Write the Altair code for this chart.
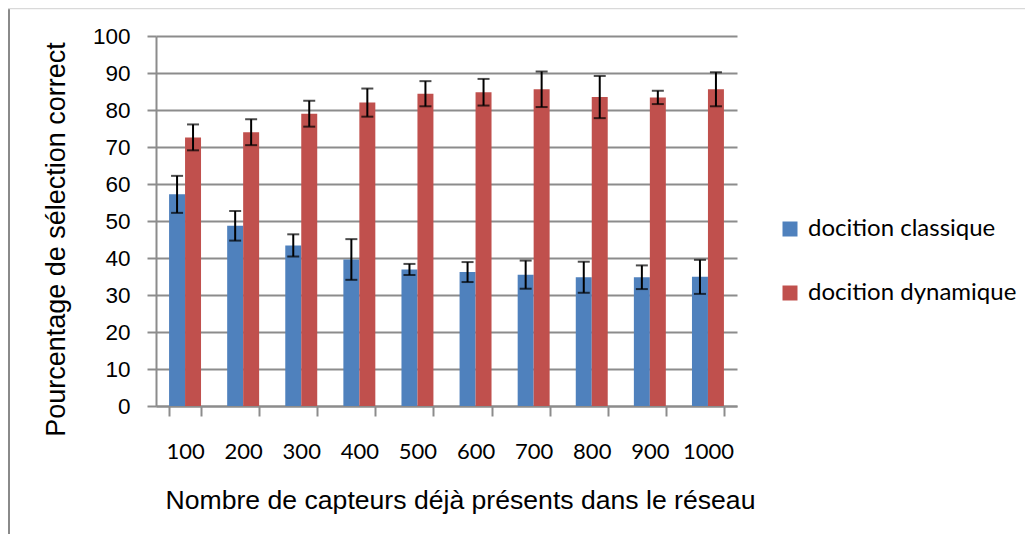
import altair as alt
import pandas as pd

categories = ["100", "200", "300", "400", "500", "600", "700", "800", "900", "1000"]
series_names = ["docition classique", "docition dynamique"]
classique = [57.2, 48.7, 43.4, 39.6, 36.9, 36.2, 35.5, 34.8, 34.8, 34.9]
classique_err = [5.0, 4.0, 3.0, 5.5, 1.5, 2.7, 3.8, 4.2, 3.2, 4.6]
dynamique = [72.6, 74.0, 79.0, 82.0, 84.4, 84.8, 85.6, 83.5, 83.4, 85.6]
dynamique_err = [3.5, 3.5, 3.5, 3.8, 3.4, 3.6, 4.8, 5.7, 1.8, 4.6]
colors = ["#4F81BD", "#C0504D"]
y_ticks = [0, 10, 20, 30, 40, 50, 60, 70, 80, 90, 100]

rows = []
for i, c in enumerate(categories):
    rows.append(dict(n=c, serie=series_names[0], v=classique[i], e=classique_err[i]))
    rows.append(dict(n=c, serie=series_names[1], v=dynamique[i], e=dynamique_err[i]))
df = pd.DataFrame(rows)
df["lo"] = df["v"] - df["e"]
df["hi"] = df["v"] + df["e"]

GRID = "#8c8c8c"

x_axis = alt.Axis(
    tickBand="extent",
    grid=False,
    domainColor=GRID,
    domainWidth=2,
    tickColor=GRID,
    tickWidth=2,
    tickSize=10,
    labelFont="Lato",
    labelFontSize=22,
    labelColor="black",
    labelAngle=0,
    labelBaseline="alphabetic",
    labelPadding=42,
    labelOverlap=False,
    title="Nombre de capteurs déjà présents dans le réseau",
    titleFont="Liberation Sans",
    titleFontSize=26.6,
    titleFontWeight="normal",
    titleColor="black",
    titleX=304,
    titleY=102,
    titleAlign="center",
    titleBaseline="alphabetic",
)

y_axis = alt.Axis(
    values=y_ticks,
    grid=True,
    gridColor=GRID,
    gridWidth=2,
    domainColor=GRID,
    domainWidth=2,
    tickColor=GRID,
    tickWidth=2,
    tickSize=9,
    labelFont="Liberation Sans",
    labelFontSize=22.5,
    labelColor="black",
    labelPadding=17,
    labelOverlap=False,
    title="Pourcentage de sélection correct",
    titleFont="Liberation Sans",
    titleFontSize=27,
    titleFontWeight="normal",
    titleColor="black",
    titleAngle=270,
    titleX=-92,
    titleY=203,
    titleAlign="center",
    titleBaseline="alphabetic",
)

x_scale = alt.Scale(paddingInner=0.45, paddingOuter=0.225)
y_scale = alt.Scale(domain=[0, 100], nice=False)


def xe():
    return alt.X("n:N", sort=categories, scale=x_scale, axis=x_axis)


def xoe():
    return alt.XOffset("serie:N", sort=series_names, scale=alt.Scale(paddingInner=0, paddingOuter=0))


base = alt.Chart(df)

bars = base.mark_bar().encode(
    x=xe(),
    xOffset=xoe(),
    y=alt.Y("v:Q", scale=y_scale, axis=y_axis),
    color=alt.Color(
        "serie:N",
        scale=alt.Scale(domain=series_names, range=colors),
        legend=alt.Legend(
            orient="none",
            legendX=622,
            legendY=181,
            direction="vertical",
            title=None,
            labelFont="Lato",
            labelFontSize=24,
            labelColor="black",
            labelLimit=400,
            symbolType="square",
            symbolSize=225,
            symbolStrokeWidth=0,
            labelOffset=6,
            rowPadding=40,
            padding=0,
        ),
    ),
)

err = base.mark_rule(color="black", strokeWidth=2).encode(
    x=xe(),
    xOffset=xoe(),
    y=alt.Y("lo:Q", scale=y_scale, axis=y_axis),
    y2="hi:Q",
)
cap_lo = base.mark_tick(color="black", thickness=2, size=12).encode(
    x=xe(),
    xOffset=xoe(),
    y=alt.Y("lo:Q", scale=y_scale, axis=y_axis),
)
cap_hi = base.mark_tick(color="black", thickness=2, size=12).encode(
    x=xe(),
    xOffset=xoe(),
    y=alt.Y("hi:Q", scale=y_scale, axis=y_axis),
)

frame_df = pd.DataFrame({"k": [0]})
frame_left = alt.Chart(frame_df).mark_rule(color="#8a8a8a", strokeWidth=2).encode(
    x=alt.value(-147), y=alt.value(-28), y2=alt.value(500)
)
frame_top = alt.Chart(frame_df).mark_rule(color="#d9d9d9", strokeWidth=1.5).encode(
    x=alt.value(-148), x2=alt.value(880), y=alt.value(-27.5)
)

chart = (
    alt.layer(bars, err, cap_lo, cap_hi, frame_left, frame_top)
    .properties(
        width=581,
        height=370,
        autosize=alt.AutoSizeParams(type="none"),
        padding={"left": 148, "top": 28, "right": 288, "bottom": 128},
    )
    .configure_view(stroke=None)
)

chart.save("out.html", embed_options={"renderer": "svg", "actions": False})
